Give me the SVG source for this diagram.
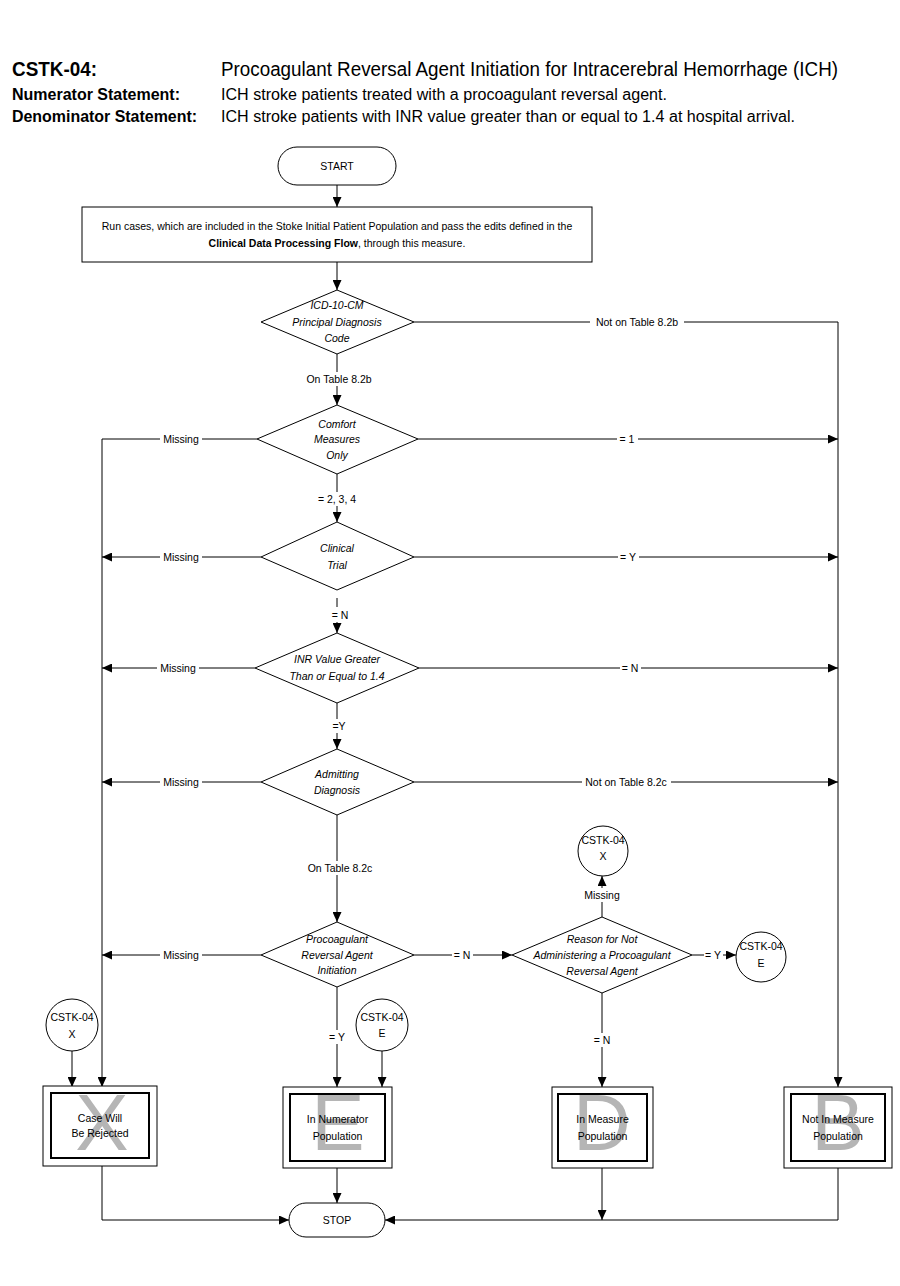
<svg xmlns="http://www.w3.org/2000/svg" width="900" height="1286" viewBox="0 0 900 1286">
<defs>
<marker id="arr" markerWidth="10" markerHeight="9" refX="10" refY="4.5" orient="auto" markerUnits="userSpaceOnUse"><path d="M0,0 L10,4.5 L0,9 z" fill="#000"/></marker>
<style>
.hd{font-family:"Liberation Sans Narrow","Arial Narrow","Liberation Sans",Arial,sans-serif;fill:#000}
.hb{font-weight:bold}
.t{font-family:"Liberation Sans",Arial,sans-serif;font-size:10.5px;fill:#000;text-anchor:middle;dominant-baseline:central}
.dt{font-style:italic}
.bg{fill:#fff;stroke:none}
.shape{fill:#fff;stroke:#000;stroke-width:1}
.inner{fill:none;stroke:#000;stroke-width:2}
.big{font-family:"Liberation Sans",Arial,sans-serif;font-size:80px;fill:#b5b5b5;text-anchor:middle}
.ca{fill:none;stroke:#000;stroke-width:1;marker-end:url(#arr)}
</style>
</defs>
<rect width="900" height="1286" fill="#fff"/>

<g id="header">
<text class="hd hb" x="12" y="76" font-size="20" textLength="85" lengthAdjust="spacingAndGlyphs">CSTK-04:</text>
<text class="hd" x="221" y="76" font-size="20" textLength="617" lengthAdjust="spacingAndGlyphs">Procoagulant Reversal Agent Initiation for Intracerebral Hemorrhage (ICH)</text>
<text class="hd hb" x="12" y="100" font-size="16" textLength="168" lengthAdjust="spacingAndGlyphs">Numerator Statement:</text>
<text class="hd" x="221" y="100" font-size="16" textLength="446" lengthAdjust="spacingAndGlyphs">ICH stroke patients treated with a procoagulant reversal agent.</text>
<text class="hd hb" x="12" y="122" font-size="16" textLength="185" lengthAdjust="spacingAndGlyphs">Denominator Statement:</text>
<text class="hd" x="221" y="122" font-size="16" textLength="574" lengthAdjust="spacingAndGlyphs">ICH stroke patients with INR value greater than or equal to 1.4 at hospital arrival.</text>
</g>

<g id="connectors">
<path class="ca" d="M337,185 V207"/>
<path class="ca" d="M337,262 V290"/>
<path class="ca" d="M414,322 H838 V1087"/>
<path class="ca" d="M337,354 V405"/>
<path class="ca" d="M257,439 H102 V1087"/>
<path class="ca" d="M418,439 H838"/>
<path class="ca" d="M337,474 V522"/>
<path class="ca" d="M261,557 H102"/>
<path class="ca" d="M414,557 H838"/>
<path class="ca" d="M337,598 V633"/>
<path class="ca" d="M255,668 H102"/>
<path class="ca" d="M419,668 H838"/>
<path class="ca" d="M337,703 V749"/>
<path class="ca" d="M261,782 H102"/>
<path class="ca" d="M414,782 H838"/>
<path class="ca" d="M337,815 V922"/>
<path class="ca" d="M261,955 H102"/>
<path class="ca" d="M414,955 H512"/>
<path class="ca" d="M337,987 V1087"/>
<path class="ca" d="M602,917 V876"/>
<path class="ca" d="M692,955 H736"/>
<path class="ca" d="M602,993 V1087"/>
<path class="ca" d="M72,1051 V1087"/>
<path class="ca" d="M382,1051 V1087"/>
<path class="ca" d="M102,1166 V1220 H289"/>
<path class="ca" d="M337,1168 V1203"/>
<path class="ca" d="M602,1168 V1220"/>
<path class="ca" d="M838,1168 V1220 H385"/>
<rect class="bg" x="590" y="315" width="94" height="14"/>
<rect class="bg" x="303" y="372" width="72" height="14"/>
<rect class="bg" x="160" y="432" width="42" height="14"/>
<rect class="bg" x="617" y="432" width="21" height="14"/>
<rect class="bg" x="316" y="492" width="42" height="14"/>
<rect class="bg" x="160" y="550" width="42" height="14"/>
<rect class="bg" x="618" y="550" width="21" height="14"/>
<rect class="bg" x="329" y="607" width="22" height="15"/>
<rect class="bg" x="157" y="661" width="42" height="14"/>
<rect class="bg" x="620" y="661" width="21" height="14"/>
<rect class="bg" x="331" y="719" width="17" height="14"/>
<rect class="bg" x="160" y="775" width="42" height="14"/>
<rect class="bg" x="582" y="775" width="89" height="14"/>
<rect class="bg" x="305" y="861" width="70" height="14"/>
<rect class="bg" x="160" y="948" width="42" height="14"/>
<rect class="bg" x="452" y="948" width="21" height="14"/>
<rect class="bg" x="327" y="1030" width="21" height="14"/>
<rect class="bg" x="582" y="888" width="40" height="14"/>
<rect class="bg" x="704" y="948" width="19" height="14"/>
<rect class="bg" x="592" y="1033" width="21" height="14"/>
<text class="t" x="637" y="322">Not on Table 8.2b</text>
<text class="t" x="339" y="379">On Table 8.2b</text>
<text class="t" x="181" y="439">Missing</text>
<text class="t" x="627" y="439">= 1</text>
<text class="t" x="337" y="499">= 2, 3, 4</text>
<text class="t" x="181" y="557">Missing</text>
<text class="t" x="628" y="557">= Y</text>
<text class="t" x="340" y="615">= N</text>
<text class="t" x="178" y="668">Missing</text>
<text class="t" x="630" y="668">= N</text>
<text class="t" x="339" y="726">=Y</text>
<text class="t" x="181" y="782">Missing</text>
<text class="t" x="626" y="782">Not on Table 8.2c</text>
<text class="t" x="340" y="868">On Table 8.2c</text>
<text class="t" x="181" y="955">Missing</text>
<text class="t" x="462" y="955">= N</text>
<text class="t" x="337" y="1037">= Y</text>
<text class="t" x="602" y="895">Missing</text>
<text class="t" x="713" y="955">= Y</text>
<text class="t" x="602" y="1040">= N</text>
</g>

<g id="start">
<rect class="shape" x="278" y="147" width="118" height="38" rx="19"/>
<text class="t" x="337" y="166">START</text>
</g>

<g id="run-cases">
<rect class="shape" x="82" y="207" width="510" height="55"/>
<text class="t" x="337" y="226">Run cases, which are included in the Stoke Initial Patient Population and pass the edits defined in the</text>
<text class="t" x="337" y="243"><tspan font-weight="bold">Clinical Data Processing Flow</tspan>, through this measure.</text>
</g>

<g id="d-icd">
<polygon class="shape" points="337,290 414,322 337,354 261,322"/>
<text class="t dt" x="337" y="305">ICD-10-CM</text>
<text class="t dt" x="337" y="322">Principal Diagnosis</text>
<text class="t dt" x="337" y="338">Code</text>
</g>

<g id="d-comfort">
<polygon class="shape" points="337,405 418,439 337,474 257,439"/>
<text class="t dt" x="337" y="424">Comfort</text>
<text class="t dt" x="337" y="439">Measures</text>
<text class="t dt" x="337" y="455">Only</text>
</g>

<g id="d-trial">
<polygon class="shape" points="337,522 414,557 337,590 261,557"/>
<text class="t dt" x="337" y="548">Clinical</text>
<text class="t dt" x="337" y="565">Trial</text>
</g>

<g id="d-inr">
<polygon class="shape" points="337,633 419,668 337,703 255,668"/>
<text class="t dt" x="337" y="659">INR Value Greater</text>
<text class="t dt" x="337" y="676">Than or Equal to 1.4</text>
</g>

<g id="d-admit">
<polygon class="shape" points="337,749 414,782 337,815 261,782"/>
<text class="t dt" x="337" y="774">Admitting</text>
<text class="t dt" x="337" y="790">Diagnosis</text>
</g>

<g id="d-proco">
<polygon class="shape" points="337,922 414,955 337,987 261,955"/>
<text class="t dt" x="337" y="939">Procoagulant</text>
<text class="t dt" x="337" y="955">Reversal Agent</text>
<text class="t dt" x="337" y="970">Initiation</text>
</g>

<g id="d-reason">
<polygon class="shape" points="602,917 692,955 602,993 512,955"/>
<text class="t dt" x="602" y="939">Reason for Not</text>
<text class="t dt" x="602" y="955">Administering a Procoagulant</text>
<text class="t dt" x="602" y="971">Reversal Agent</text>
</g>

<g id="c-x-top">
<circle class="shape" cx="603" cy="851" r="25"/>
<text class="t" x="603" y="840">CSTK-04</text>
<text class="t" x="603" y="856">X</text>
</g>

<g id="c-e-right">
<circle class="shape" cx="761" cy="957" r="25"/>
<text class="t" x="761" y="946">CSTK-04</text>
<text class="t" x="761" y="963">E</text>
</g>

<g id="c-x-left">
<circle class="shape" cx="72" cy="1025" r="26"/>
<text class="t" x="72" y="1017">CSTK-04</text>
<text class="t" x="72" y="1034">X</text>
</g>

<g id="c-e-mid">
<circle class="shape" cx="382" cy="1025" r="26"/>
<text class="t" x="382" y="1017">CSTK-04</text>
<text class="t" x="382" y="1033">E</text>
</g>

<g id="box-x">
<rect class="shape" x="43" y="1086" width="114" height="80"/>
<rect class="inner" x="51" y="1093" width="98" height="65"/>
<text class="big" x="102" y="1150">X</text>
<text class="t" x="100" y="1118">Case Will</text>
<text class="t" x="100" y="1133">Be Rejected</text>
</g>

<g id="box-e">
<rect class="shape" x="283" y="1087" width="109" height="81"/>
<rect class="inner" x="290" y="1094" width="95" height="67"/>
<text class="big" x="338" y="1150">E</text>
<text class="t" x="337.5" y="1119">In Numerator</text>
<text class="t" x="337.5" y="1136">Population</text>
</g>

<g id="box-d">
<rect class="shape" x="552" y="1087" width="101" height="81"/>
<rect class="inner" x="558" y="1094" width="89" height="67"/>
<text class="big" x="602" y="1150">D</text>
<text class="t" x="602.5" y="1119">In Measure</text>
<text class="t" x="602.5" y="1136">Population</text>
</g>

<g id="box-b">
<rect class="shape" x="784" y="1087" width="108" height="81"/>
<rect class="inner" x="791" y="1094" width="94" height="67"/>
<text class="big" x="838" y="1150">B</text>
<text class="t" x="838" y="1119">Not In Measure</text>
<text class="t" x="838" y="1136">Population</text>
</g>

<g id="stop">
<rect class="shape" x="289" y="1203" width="96" height="34" rx="17"/>
<text class="t" x="337" y="1220">STOP</text>
</g>
</svg>
